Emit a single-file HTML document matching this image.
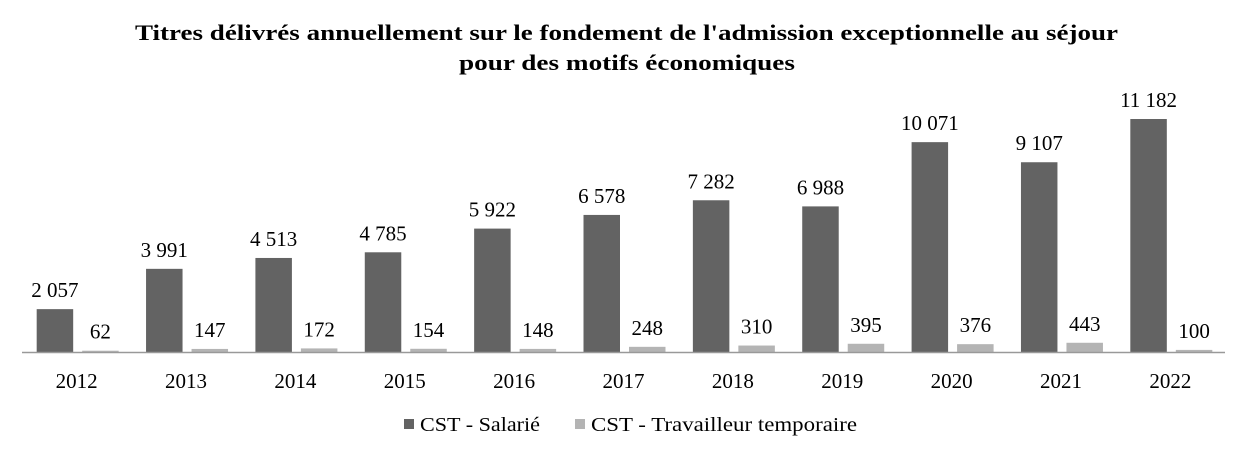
<!DOCTYPE html>
<html><head><meta charset="utf-8"><style>
body{margin:0;background:#fff;}
svg text{font-family:"Liberation Serif",serif;fill:#000;}
</style></head><body>
<svg width="1252" height="457" xmlns="http://www.w3.org/2000/svg">
<text x="135" y="40" font-size="22" font-weight="bold" textLength="983" lengthAdjust="spacingAndGlyphs">Titres délivrés annuellement sur le fondement de l'admission exceptionnelle au séjour</text>
<text x="459" y="70" font-size="22" font-weight="bold" textLength="336" lengthAdjust="spacingAndGlyphs">pour des motifs économiques</text>
<g id="plot"></g>
<line x1="22" y1="352.5" x2="1225" y2="352.5" stroke="#999" stroke-width="1.5"/>
<rect x="404" y="419" width="10" height="10" fill="#636363"/>
<text x="420" y="431" font-size="20" textLength="120" lengthAdjust="spacingAndGlyphs">CST - Salarié</text>
<rect x="575" y="419" width="10" height="10" fill="#b4b4b4"/>
<text x="591" y="431" font-size="20" textLength="266" lengthAdjust="spacingAndGlyphs">CST - Travailleur temporaire</text>
</svg>
<script>
const categories=["2012","2013","2014","2015","2016","2017","2018","2019","2020","2021","2022"];
const salarie=[2057,3991,4513,4785,5922,6578,7282,6988,10071,9107,11182];
const temporaire=[62,147,172,154,148,248,310,395,376,443,100];
const salarieLabels=["2 057","3 991","4 513","4 785","5 922","6 578","7 282","6 988","10 071","9 107","11 182"];
const temporaireLabels=["62","147","172","154","148","248","310","395","376","443","100"];
const NS="http://www.w3.org/2000/svg";
const g=document.getElementById('plot');
const x0=22,x1=1225,base=352,scale=233/11182;
const bw=(x1-x0)/categories.length;
function xc(i){return x0+bw*(i+0.5);}
function y(v){return base-v*scale;}
function mk(t,a){const e=document.createElementNS(NS,t);for(const k in a)e.setAttribute(k,a[k]);g.appendChild(e);return e;}
categories.forEach((c,i)=>{
  const cx=xc(i);
  const r1=mk('rect',{x:cx-40,y:y(salarie[i]),width:36.5,height:salarie[i]*scale,fill:'#636363'});
  
  
  const r2=mk('rect',{x:cx+5.5,y:y(temporaire[i]),width:36.5,height:temporaire[i]*scale,fill:'#b4b4b4'});
  
  
  const t1=mk('text',{x:cx-21.75,y:y(salarie[i])-12,'text-anchor':'middle','font-size':'21'});
  t1.textContent=salarieLabels[i];
  
  
  const t2=mk('text',{x:cx+23.75,y:y(temporaire[i])-12,'text-anchor':'middle','font-size':'21'});
  t2.textContent=temporaireLabels[i];
  
  
  const t3=mk('text',{x:cx,y:388,'text-anchor':'middle','font-size':'21'});
  t3.textContent=c;
  
  
});
</script>
</body></html>
